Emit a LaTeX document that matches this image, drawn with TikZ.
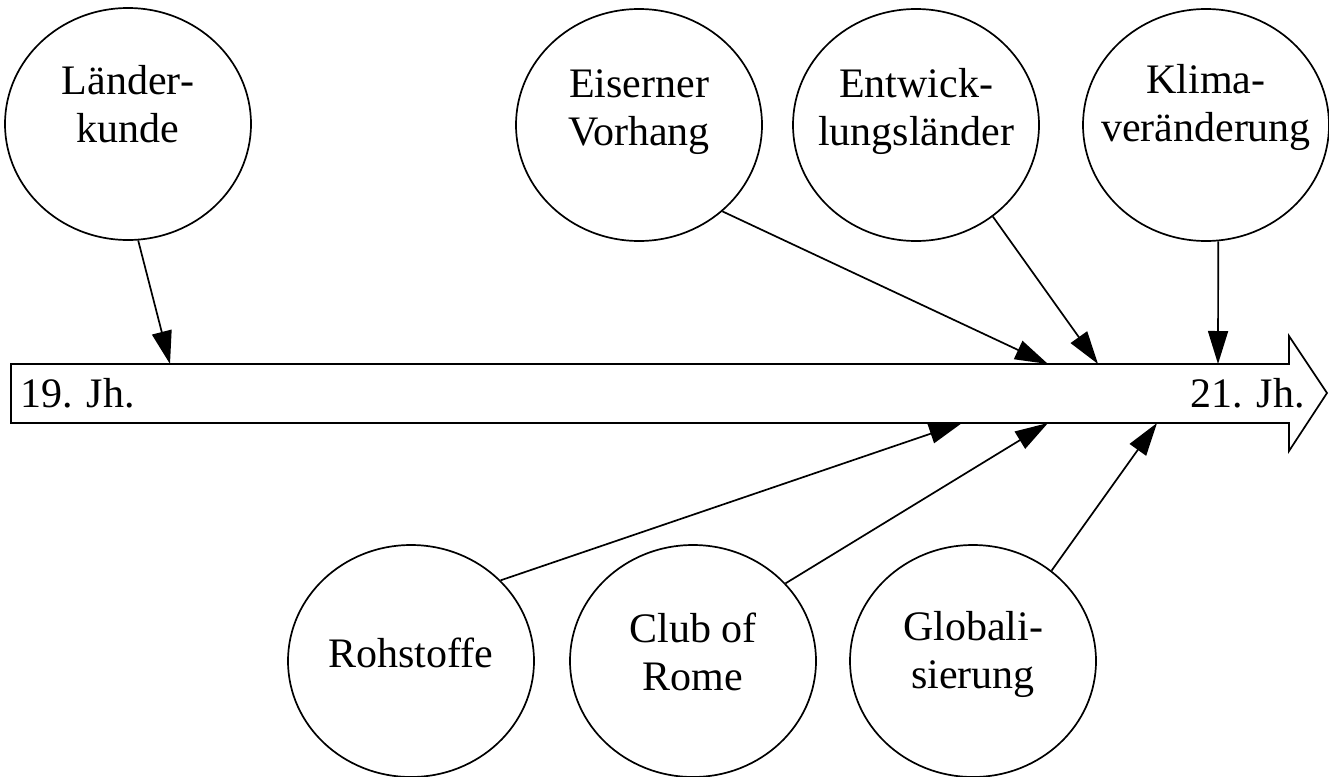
\documentclass[tikz,border=0pt]{standalone}
\usepackage{fontspec}
\setmainfont{Liberation Serif}
\usetikzlibrary{shapes.geometric,arrows.meta}
\tikzset{
  bubble/.style={ellipse,draw,line width=1.7pt,minimum width=246pt,minimum height=232pt,inner sep=0pt},
  txt/.style={align=center,inner sep=0pt,font=\fontsize{42}{48}\selectfont},
  con/.style={line width=1.7pt,-{Triangle[length=33pt,width=20pt]}},
  band/.style={line width=1.7pt,line join=miter}
}
\begin{document}
\begin{tikzpicture}[x=1pt,y=-1pt]
\useasboundingbox (0,0) rectangle (1329,776);
% big time arrow
\draw[band] (11,364) -- (1289,364) -- (1289,336) -- (1327,393) -- (1289,451) -- (1289,423) -- (11,423) -- cycle;
\node[txt,anchor=base west] (start) at (20,407) {19. Jh.};
\node[txt,anchor=base east] (end) at (1305,407) {21. Jh.};
% arrow end points on the band
\coordinate (pL) at (170,364);
\coordinate (pE) at (1048,364);
\coordinate (pW) at (1098,364);
\coordinate (pK) at (1218,364);
\coordinate (pR) at (962,423);
\coordinate (pC) at (1048,423);
\coordinate (pG) at (1157,423);
% top bubbles
\node[bubble] (lae) at (128,124) {};
\node[txt] (laeT) at (128,104.5) {Länder-\\kunde};
\node[bubble] (eis) at (639,125) {};
\node[txt] (eisT) at (639,112) {Eiserner\\Vorhang};
\node[bubble] (ent) at (916,125) {};
\node[txt] (entT) at (916,111) {Entwick-\\lungsländer};
\node[bubble] (kli) at (1206,125) {};
\node[txt] (kliT) at (1206,107) {Klima-\\veränderung};
% bottom bubbles
\node[bubble] (roh) at (411,661) {};
\node[txt] (rohT) at (411,652.5) {Rohstoffe};
\node[bubble] (club) at (693,661) {};
\node[txt] (clubT) at (693,651.5) {Club of\\Rome};
\node[bubble] (glo) at (973,661) {};
\node[txt] (gloT) at (973,654) {Globali-\\sierung};
% connectors
\draw[con] (lae.-85.6) -- (pL);
\draw[con] (eis.-46.3) -- (pE);
\draw[con] (ent.-50.8) -- (pW);
\draw[con] (kli.-84) -- (pK);
\draw[con] (roh.42.7) -- (pR);
\draw[con] (club.40) -- (pC);
\draw[con] (glo.49) -- (pG);
\end{tikzpicture}
\end{document}
